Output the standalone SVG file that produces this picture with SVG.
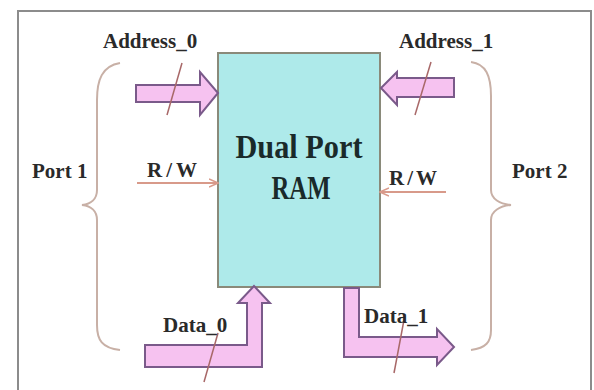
<svg xmlns="http://www.w3.org/2000/svg" width="594" height="390" viewBox="0 0 594 390">
<style>
.lbl{font-family:"Liberation Serif","Times New Roman",serif;font-weight:bold;font-size:21px;fill:#2a2a2a}
.big{font-family:"Liberation Serif","Times New Roman",serif;font-weight:bold;font-size:33px;fill:#1a2a2a}
.bus{fill:#f6c2f0;stroke:#7a5a8a;stroke-width:2;stroke-linejoin:miter}
.slash{stroke:#a86868;stroke-width:1.5;fill:none}
.brace{stroke:#c8b0a6;stroke-width:2;fill:none}
.rw{stroke:#d89a8a;stroke-width:2;fill:none}
</style>
<defs>
<marker id="ah" markerWidth="10" markerHeight="10" refX="8" refY="5" orient="auto" markerUnits="userSpaceOnUse">
<path d="M0,1 L9,5 L0,9" fill="none" stroke="#d89a8a" stroke-width="1.5"/>
</marker>
</defs>
<rect x="0" y="0" width="594" height="390" fill="#ffffff"/>
<rect x="18" y="11" width="573" height="400" fill="none" stroke="#8c8c8c" stroke-width="2"/>
<g id="ram">
<rect x="218" y="53" width="162" height="234" fill="#aeeaea" stroke="#8a8a7a" stroke-width="2"/>
<text class="big" x="299" y="158" text-anchor="middle" textLength="127" lengthAdjust="spacingAndGlyphs">Dual Port</text>
<text class="big" x="301" y="199" text-anchor="middle" textLength="59" lengthAdjust="spacingAndGlyphs">RAM</text>
</g>
<g id="port1">
<path class="brace" d="M120,63 C102,66 97,80 97,100 L97,190 C97,199 91,204 82,205 C91,206 97,211 97,220 L97,325 C97,340 102,348 120,350"/>
<text class="lbl" x="32" y="178">Port 1</text>
</g>
<g id="port2">
<path class="brace" d="M471,62 C486,64 491,76 491,96 L491,190 C491,199 500,204 511,205 C500,206 491,211 491,220 L491,330 C491,342 486,348 471,350"/>
<text class="lbl" x="512" y="178">Port 2</text>
</g>
<g id="connectors">
<g id="address0">
<polygon class="bus" points="136,85 200,85 200,72 218,93 200,115 200,102 136,102"/>
<line class="slash" x1="182" y1="63" x2="167" y2="115"/>
<text class="lbl" x="103" y="48">Address_0</text>
</g>
<g id="address1">
<polygon class="bus" points="454,78 397,78 397,72 381,88 397,105 397,97 454,97"/>
<line class="slash" x1="431" y1="62" x2="415" y2="115"/>
<text class="lbl" x="399" y="48">Address_1</text>
</g>
<g id="rw0">
<line class="rw" x1="137" y1="183" x2="217" y2="183" marker-end="url(#ah)"/>
<text class="lbl" x="147" y="177" textLength="50">R/W</text>
</g>
<g id="rw1">
<line class="rw" x1="446" y1="192" x2="381" y2="192" marker-end="url(#ah)"/>
<text class="lbl" x="389" y="185" textLength="48">R/W</text>
</g>
<g id="data0">
<polygon class="bus" points="145,345 247,345 247,303 238,303 254,286 270,303 262,303 262,367 145,367"/>
<line class="slash" x1="218" y1="333" x2="204" y2="382"/>
<text class="lbl" x="163" y="332">Data_0</text>
</g>
<g id="data1">
<polygon class="bus" points="344,288 359,288 359,337 437,337 437,329 454,347 437,365 437,357 344,357"/>
<line class="slash" x1="404" y1="320" x2="394" y2="373"/>
<text class="lbl" x="364" y="323">Data_1</text>
</g>
</g>
</svg>
